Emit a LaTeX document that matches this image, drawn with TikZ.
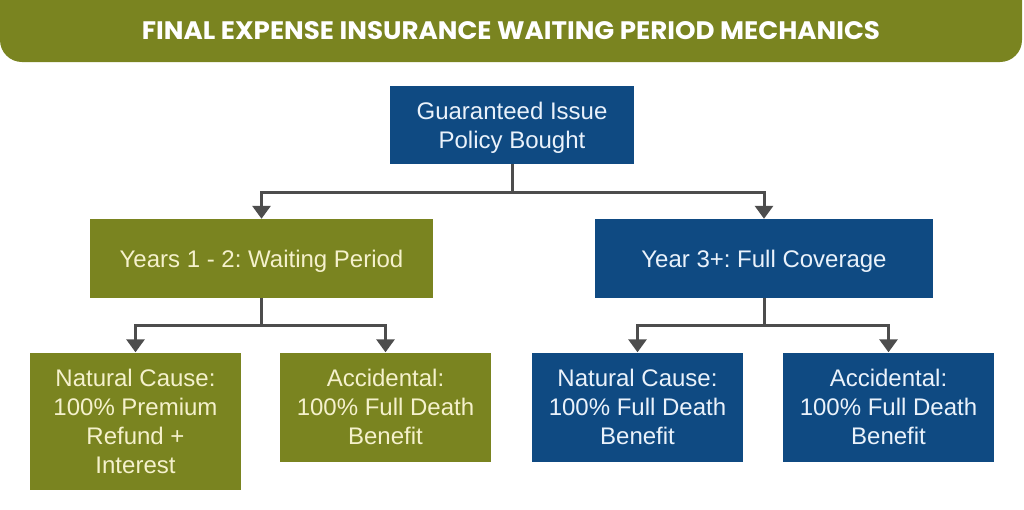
\documentclass[tikz,border=0pt]{standalone}
\usepackage{fontspec}
\setmainfont{Liberation Sans}
\newfontfamily\titlefont{Poppins}
\usetikzlibrary{arrows.meta}
\definecolor{olive}{HTML}{7A8420}
\definecolor{navy}{HTML}{0F4A82}
\definecolor{cream}{HTML}{F5F1CC}
\definecolor{paleblue}{HTML}{EAF2FB}
\definecolor{conn}{HTML}{4D4D4D}
\frenchspacing
\tikzset{
  box/.style={inner sep=0pt, align=center, text depth=0pt, font=\fontsize{24}{29}\selectfont},
  greenbox/.style={box, fill=olive, text=cream},
  bluebox/.style={box, fill=navy, text=paleblue},
  link/.style={draw=conn, line width=3pt, -{Triangle[width=18pt,length=13pt]}}
}
\begin{document}
\begin{tikzpicture}[x=1pt,y=-1pt]
\useasboundingbox (0,0) rectangle (1024,509);
\fill[olive] (0,-10) -- (1022,-10) -- (1022,40) arc[start angle=0,end angle=90,radius=22] -- (22,62) arc[start angle=90,end angle=180,radius=22] -- cycle;
\node[text=white] (title) at (511,31) {\resizebox{738pt}{18pt}{\titlefont\bfseries FINAL EXPENSE INSURANCE WAITING PERIOD MECHANICS}};
\node[bluebox, minimum width=244pt, minimum height=78pt] (top) at (512,125) {Guaranteed Issue\\Policy Bought};
\node[greenbox, minimum width=343pt, minimum height=79pt] (lmid) at (261.5,258.5) {Years 1 - 2: Waiting Period};
\node[bluebox, minimum width=338pt, minimum height=79pt] (rmid) at (764,258.5) {Year 3+: Full Coverage};
\node[greenbox, minimum width=211pt, minimum height=137pt] (ll) at (135.5,421) {Natural Cause:\\100\% Premium\\Refund +\\Interest};
\node[greenbox, minimum width=211pt, minimum height=109pt] (lr) at (385.5,407) {Accidental:\\100\% Full Death\\Benefit};
\node[bluebox, minimum width=211pt, minimum height=109pt] (rl) at (637.5,407) {Natural Cause:\\100\% Full Death\\Benefit};
\node[bluebox, minimum width=211pt, minimum height=109pt] (rr) at (888.5,407) {Accidental:\\100\% Full Death\\Benefit};
\draw[link] (top.south) -- ++(0,28) -| (lmid.north);
\draw[link] (top.south) -- ++(0,28) -| (rmid.north);
\draw[link] (lmid.south) -- ++(0,27) -| (ll.north);
\draw[link] (lmid.south) -- ++(0,27) -| (lr.north);
\draw[link] (rmid.south) -- ++(0,27) -| (rl.north);
\draw[link] (rmid.south) -- ++(0,27) -| (rr.north);
\end{tikzpicture}
\end{document}
